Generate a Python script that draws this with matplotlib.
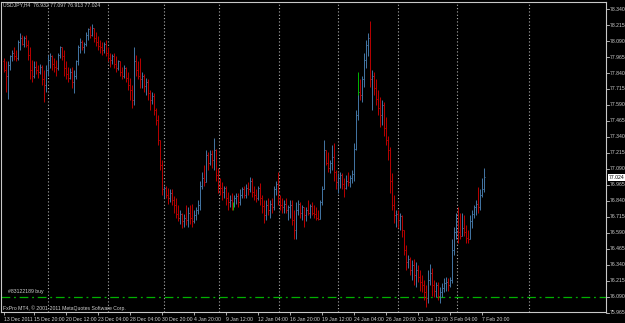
import matplotlib
matplotlib.use("Agg")
import matplotlib.pyplot as plt
from matplotlib import font_manager as fm
import numpy as np

# USDJPY H4 bars (price)
first_open = 77.93
highs = [
    77.96, 77.93, 77.93, 77.98, 78.02, 78.04, 78.02, 78.10, 78.15, 78.14,
    78.13, 78.14, 78.10, 78.04, 77.94, 77.93, 77.93, 77.90, 77.91, 77.90,
    77.86, 77.90, 77.98, 78.00, 77.98, 77.96, 77.94, 78.00, 78.05, 78.04,
    78.02, 77.93, 77.89, 77.88, 77.89, 77.86, 77.94, 78.06, 78.11, 78.10,
    78.08, 78.16, 78.19, 78.21, 78.22, 78.19, 78.16, 78.13, 78.10, 78.08,
    78.08, 78.10, 78.04, 78.00, 77.99, 78.00, 77.97, 77.94, 77.93, 77.89,
    77.90, 77.89, 77.85, 77.80, 77.75, 78.04, 77.98, 77.93, 77.96, 77.85,
    77.83, 77.80, 77.79, 77.71, 77.69, 77.68, 77.57, 77.51, 77.32, 77.16,
    76.96, 76.96, 76.94, 76.93, 76.93, 76.88, 76.86, 76.81, 76.77, 76.75,
    76.74, 76.81, 76.79, 76.81, 76.82, 76.77, 76.79, 76.85, 77.00, 77.07,
    77.12, 77.24, 77.22, 77.24, 77.24, 77.33, 77.25, 77.10, 77.02, 76.99,
    76.96, 76.96, 76.91, 76.89, 76.90, 76.89, 76.90, 76.90, 76.93, 76.95,
    76.96, 76.97, 76.99, 77.03, 77.02, 76.96, 76.93, 76.96, 76.98, 76.89,
    76.85, 76.85, 76.86, 76.85, 76.86, 76.96, 77.00, 77.07, 76.89, 76.86,
    76.85, 76.86, 76.81, 76.85, 76.85, 76.77, 76.83, 76.85, 76.83, 76.81,
    76.77, 76.79, 76.85, 76.82, 76.83, 76.81, 76.79, 76.77, 76.85, 76.96,
    77.32, 77.24, 77.22, 77.16, 77.28, 77.29, 77.08, 77.06, 77.07, 77.06,
    77.02, 77.04, 77.07, 77.04, 77.08, 77.29, 77.55, 77.73, 77.79, 77.82,
    78.00, 78.10, 78.15, 78.25, 77.86, 77.85, 77.79, 77.71, 77.65, 77.63,
    77.61, 77.50, 77.35, 77.26, 77.06, 76.89, 76.77, 76.77, 76.75, 76.73,
    76.61, 76.50, 76.42, 76.40, 76.38, 76.39, 76.36, 76.34, 76.30, 76.26,
    76.22, 76.18, 76.30, 76.35, 76.32, 76.22, 76.21, 76.21, 76.17, 76.20,
    76.24, 76.25, 76.24, 76.25, 76.54, 76.64, 76.75, 76.79, 76.75, 76.75,
    76.73, 76.65, 76.61, 76.73, 76.77, 76.81, 76.85, 76.95, 76.93, 77.02,
    77.097,
]
lows = [
    77.85, 77.69, 77.64, 77.86, 77.93, 77.94, 77.93, 77.94, 78.02, 78.06,
    78.04, 78.04, 77.94, 77.79, 77.77, 77.80, 77.83, 77.80, 77.83, 77.75,
    77.61, 77.69, 77.82, 77.88, 77.86, 77.85, 77.82, 77.86, 77.96, 77.94,
    77.82, 77.79, 77.77, 77.79, 77.72, 77.68, 77.79, 77.90, 78.00, 78.02,
    78.00, 78.05, 78.10, 78.11, 78.13, 78.08, 78.05, 78.02, 78.00, 77.98,
    78.00, 77.97, 77.93, 77.89, 77.91, 77.88, 77.85, 77.86, 77.82, 77.79,
    77.80, 77.77, 77.71, 77.63, 77.57, 77.59, 77.82, 77.79, 77.72, 77.72,
    77.69, 77.67, 77.63, 77.55, 77.60, 77.51, 77.43, 77.28, 77.08, 76.89,
    76.86, 76.86, 76.82, 76.83, 76.81, 76.75, 76.71, 76.68, 76.66, 76.63,
    76.64, 76.65, 76.64, 76.66, 76.64, 76.67, 76.69, 76.74, 76.77, 76.93,
    76.96, 77.04, 77.08, 77.12, 77.10, 77.08, 77.00, 76.90, 76.89, 76.85,
    76.86, 76.81, 76.77, 76.79, 76.77, 76.79, 76.82, 76.79, 76.81, 76.86,
    76.86, 76.86, 76.89, 76.91, 76.87, 76.85, 76.83, 76.85, 76.81, 76.75,
    76.67, 76.69, 76.73, 76.71, 76.75, 76.77, 76.89, 76.81, 76.77, 76.75,
    76.75, 76.75, 76.69, 76.71, 76.65, 76.54, 76.54, 76.73, 76.71, 76.69,
    76.64, 76.68, 76.73, 76.71, 76.73, 76.71, 76.69, 76.69, 76.73, 76.81,
    76.93, 77.12, 77.07, 77.06, 77.08, 77.00, 76.93, 76.90, 76.94, 76.93,
    76.87, 76.93, 76.96, 76.95, 76.98, 77.00, 77.24, 77.47, 77.63, 77.61,
    77.73, 77.88, 77.97, 77.73, 77.55, 77.67, 77.59, 77.51, 77.42, 77.43,
    77.35, 77.28, 77.16, 76.90, 76.77, 76.67, 76.64, 76.63, 76.61, 76.56,
    76.42, 76.30, 76.32, 76.26, 76.22, 76.18, 76.17, 76.21, 76.14, 76.13,
    76.07, 76.01, 76.04, 76.18, 76.10, 76.09, 76.09, 76.07, 76.04, 76.09,
    76.13, 76.14, 76.14, 76.17, 76.20, 76.42, 76.54, 76.51, 76.54, 76.59,
    76.57, 76.51, 76.51, 76.54, 76.63, 76.71, 76.73, 76.75, 76.77, 76.87,
    76.913,
]
closes = [
    77.86, 77.82, 77.90, 77.97, 78.00, 77.97, 77.96, 78.08, 78.11, 78.07,
    78.11, 78.06, 77.98, 77.86, 77.82, 77.89, 77.86, 77.85, 77.89, 77.79,
    77.75, 77.86, 77.94, 77.97, 77.91, 77.89, 77.88, 77.98, 78.04, 77.97,
    77.88, 77.83, 77.80, 77.85, 77.77, 77.82, 77.93, 78.04, 78.08, 78.04,
    78.07, 78.14, 78.18, 78.14, 78.19, 78.11, 78.08, 78.05, 78.04, 78.02,
    78.07, 78.00, 77.96, 77.94, 77.97, 77.91, 77.88, 77.93, 77.85, 77.82,
    77.88, 77.80, 77.75, 77.71, 77.63, 77.93, 77.86, 77.82, 77.79, 77.82,
    77.74, 77.77, 77.68, 77.63, 77.66, 77.55, 77.47, 77.32, 77.12, 76.93,
    76.94, 76.89, 76.86, 76.90, 76.85, 76.81, 76.74, 76.71, 76.74, 76.68,
    76.71, 76.69, 76.75, 76.71, 76.68, 76.73, 76.77, 76.81, 76.96, 77.02,
    76.99, 77.20, 77.14, 77.21, 77.16, 77.24, 77.04, 76.96, 76.94, 76.91,
    76.94, 76.86, 76.83, 76.85, 76.82, 76.86, 76.88, 76.83, 76.89, 76.93,
    76.89, 76.94, 76.93, 77.00, 76.91, 76.89, 76.86, 76.94, 76.86, 76.80,
    76.73, 76.81, 76.77, 76.82, 76.79, 76.93, 76.97, 76.86, 76.81, 76.79,
    76.82, 76.77, 76.79, 76.81, 76.69, 76.61, 76.77, 76.82, 76.75, 76.79,
    76.73, 76.77, 76.75, 76.80, 76.75, 76.74, 76.71, 76.70, 76.83, 76.93,
    77.24, 77.14, 77.10, 77.14, 77.18, 77.07, 76.99, 77.02, 77.04, 76.97,
    76.94, 77.00, 76.99, 77.02, 77.05, 77.25, 77.51, 77.69, 77.67, 77.79,
    77.94, 78.06, 78.11, 77.79, 77.82, 77.72, 77.64, 77.57, 77.51, 77.59,
    77.41, 77.32, 77.24, 77.00, 76.81, 76.73, 76.74, 76.69, 76.72, 76.61,
    76.46, 76.36, 76.39, 76.30, 76.34, 76.26, 76.30, 76.25, 76.21, 76.18,
    76.13, 76.08, 76.22, 76.28, 76.18, 76.14, 76.18, 76.10, 76.13, 76.16,
    76.20, 76.21, 76.18, 76.22, 76.46, 76.60, 76.65, 76.60, 76.57, 76.63,
    76.60, 76.55, 76.54, 76.68, 76.74, 76.79, 76.82, 76.79, 76.89, 76.932,
    77.024,
]

# trade marks (green) and the open order line
mark_idx = [114.5, 177]
mark_lo = [76.77, 77.67]
mark_hi = [76.83, 77.85]
order_price = 76.09

price_ticks = [78.340, 78.215, 78.090, 77.965, 77.840, 77.715, 77.590, 77.465,
               77.340, 77.215, 77.090, 76.965, 76.840, 76.715, 76.590, 76.465,
               76.340, 76.215, 76.090, 75.965]
date_idx = [0, 15, 31, 47, 63, 79, 95, 111, 127, 143, 159, 175, 191, 207, 223, 239]
date_labels = ["13 Dec 2011", "15 Dec 20:00", "20 Dec 12:00", "23 Dec 04:00",
               "28 Dec 04:00", "30 Dec 20:00", "4 Jan 20:00", "9 Jan 12:00",
               "12 Jan 04:00", "16 Jan 20:00", "19 Jan 12:00", "24 Jan 04:00",
               "26 Jan 20:00", "31 Jan 12:00", "3 Feb 04:00", "7 Feb 20:00"]
week_lines = [22, 52, 80, 107.5, 137.5, 167, 197, 226.5, 262.5]

# small narrow UI font like the terminal's
avail = {f.name for f in fm.fontManager.ttflist}
if 'Liberation Sans Narrow' in avail:
    FONT, FS = 'Liberation Sans Narrow', 4.3
else:
    FONT, FS = 'Liberation Sans', 3.7
TXT = '#d0d0d0'
UP = '#41729f'
DOWN = '#b40000'

W, H = 625, 323
fig = plt.figure(figsize=(W / 100, H / 100), dpi=100, facecolor='black')
ax = fig.add_axes([1.0 / W, 1 - 311.5 / H, 605 / W, 310 / H], facecolor='black')

highs = np.array(highs)
lows = np.array(lows)
closes = np.array(closes)
opens = np.r_[first_open, closes[:-1]]
idx = np.arange(len(closes))
cols = [UP if c >= o else DOWN for o, c in zip(opens, closes)]

for x in week_lines:
    ax.axvline(x, color='#b0b0b0', lw=0.8, ls=(0, (1, 2)), zorder=1)

# 2 px per bar: 1 px stick, 1 px open tick left, 1 px close tick right
lo = np.minimum(lows, np.minimum(opens, closes))
hi = np.maximum(highs, np.maximum(opens, closes))
ax.vlines(idx, lo, hi, colors=cols, lw=0.72, zorder=3)
ax.hlines(opens, idx - 0.5, idx, colors=cols, lw=0.72, zorder=3)
ax.hlines(closes, idx, idx + 0.5, colors=cols, lw=0.72, zorder=3)
ax.vlines(mark_idx, mark_lo, mark_hi, colors='#00b000', lw=0.72, zorder=4)

ax.axhline(order_price, color='#00b000', lw=0.9, ls=(0, (7, 3, 1.5, 3)), zorder=2)
ax.text(2, order_price + 0.02, "#83122189 buy", color=TXT, fontsize=FS, family=FONT,
        va='bottom', ha='left')

ax.set_xlim(-1.25, 301.25)
ax.set_ylim(75.9767, 78.3986)

for s in ax.spines.values():
    s.set_color('#c8c8c8')
    s.set_linewidth(0.8)

ax.set_yticks([])
ax.set_xticks(date_idx)
ax.set_xticklabels(date_labels, ha='left', fontsize=FS, color=TXT, family=FONT)
ax.tick_params(axis='x', colors='#c8c8c8', length=2.5, width=0.6, pad=1.5, labelcolor=TXT)

ytr = ax.get_yaxis_transform()
for p in price_ticks:
    ax.plot([1, 1 + 3 / 605], [p, p], color='#c8c8c8', lw=0.6, transform=ytr, clip_on=False)
    ax.text(1 + 4 / 605, p, f"{p:.3f}", color=TXT, fontsize=FS, family=FONT,
            va='center', ha='left', transform=ytr, clip_on=False)

last = closes[-1]
ax.text(1 + 3 / 605, last, f"{last:.3f}", color='black', fontsize=FS, family=FONT,
        va='center', ha='left', transform=ytr, clip_on=False,
        bbox=dict(boxstyle='square,pad=0.15', fc='white', ec='white', lw=0))

ax.text(0.004, 0.997, "USDJPY,H4  %.3f %.3f %.3f %.3f" % (opens[-1], highs[-1], lows[-1], closes[-1]),
        transform=ax.transAxes, color=TXT, fontsize=FS, family=FONT, va='top', ha='left')
ax.text(0.003, 0.003, "FxPro MT4, \u00a9 2001-2011 MetaQuotes Software Corp.",
        transform=ax.transAxes, color=TXT, fontsize=FS, family=FONT, va='bottom', ha='left')

fig.savefig("out.png", dpi=100, facecolor='black')
